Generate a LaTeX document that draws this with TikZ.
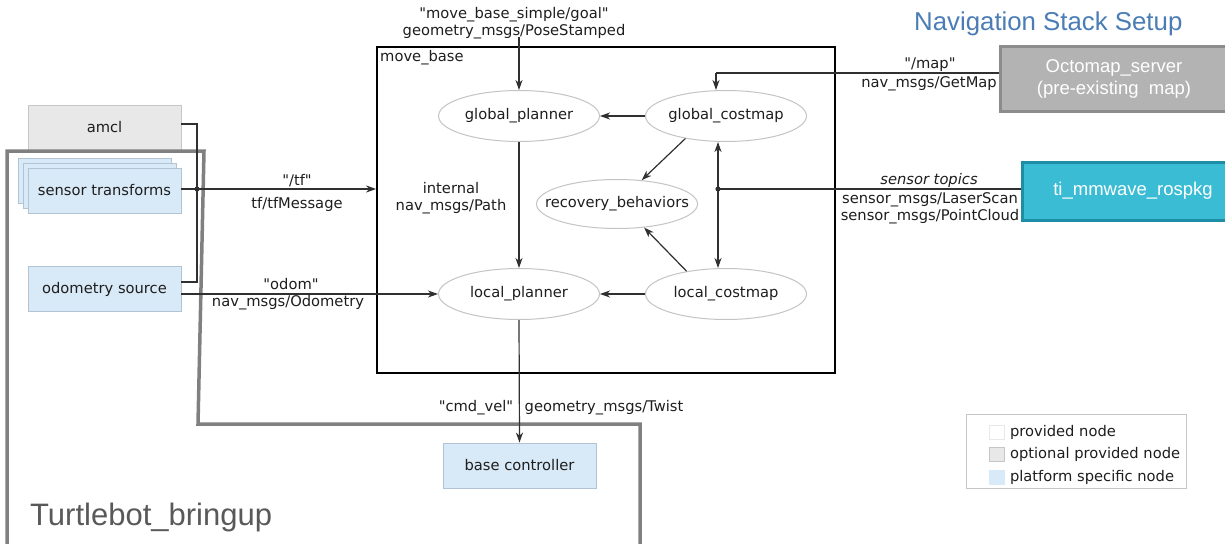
\documentclass[tikz,border=0pt]{standalone}
\usepackage{fontspec}
\setmainfont{DejaVu Sans}[Ligatures=TeXOff]
\newfontfamily\arialf{Liberation Sans}
\usetikzlibrary{arrows.meta,shapes.geometric,calc}
\definecolor{txt}{HTML}{1E1E1E}
\definecolor{ellc}{HTML}{C4C4C4}
\definecolor{greyfill}{HTML}{E8E8E8}
\definecolor{greyline}{HTML}{C6C6C6}
\definecolor{bluefill}{HTML}{D8E9F7}
\definecolor{blueline}{HTML}{B2C3D3}
\definecolor{octofill}{HTML}{B3B3B3}
\definecolor{octoline}{HTML}{8C8C8C}
\definecolor{tifill}{HTML}{3ABCD4}
\definecolor{tiline}{HTML}{1E8EA6}
\definecolor{frameg}{HTML}{808080}
\definecolor{titleblue}{HTML}{4A7DB5}
\definecolor{tbtext}{HTML}{595959}
\definecolor{conn}{HTML}{303030}
\newcommand{\lblfont}{\fontsize{14.7}{17}\selectfont}
\newcommand{\qq}{\symbol{34}}
\newcommand{\ztext}[1]{\makebox[0pt]{#1}}
\tikzset{
  ell/.style={ellipse, draw=ellc, fill=white, line width=1pt, minimum width=161pt, minimum height=51pt, inner sep=0pt, font=\lblfont, text=txt},
  greybox/.style={draw=greyline, fill=greyfill, line width=0.8pt, minimum width=153pt, minimum height=45pt, inner sep=0pt, font=\lblfont, text=txt},
  bluebox/.style={draw=blueline, fill=bluefill, line width=0.8pt, minimum width=153pt, minimum height=45pt, inner sep=0pt, font=\lblfont, text=txt},
  lbl/.style={font=\lblfont, text=txt, inner sep=0pt, align=center},
  cline/.style={draw=conn, line width=1.2pt},
  arr/.style={cline, -{Stealth[length=10pt,width=7pt,inset=3pt]}},
  darr/.style={cline, {Stealth[length=10pt,width=7pt,inset=3pt]}-{Stealth[length=10pt,width=7pt,inset=3pt]}},
  legsq/.style={draw=greyline, line width=0.6pt, minimum width=15pt, minimum height=14pt, inner sep=0pt},
  tbframe/.style={draw=frameg, line width=3.5pt},
}
\begin{document}
\begin{tikzpicture}[x=1pt,y=-1pt]
\useasboundingbox[fill=white] (0,0) rectangle (1225,543);

% title
\node[anchor=base west, inner sep=0pt, font=\arialf\fontsize{25.8}{28}\selectfont, text=titleblue] (title) at (914,31) {Navigation Stack Setup};

% move_base frame
\node[draw=black, line width=1.8pt, minimum width=458pt, minimum height=326pt, inner sep=0pt] (mb) at (606,210) {};
\node[lbl, anchor=north west] (mblbl) at (380,50) {move\_base};

% ellipses
\node[ell] (gp) at (519,116) {\ztext{global\_planner}};
\node[ell] (gc) at (726,116) {\ztext{global\_costmap}};
\node[ell, minimum height=49pt] (rb) at (617,204) {\ztext{recovery\_behaviors}};
\node[ell] (lp) at (519,294) {\ztext{local\_planner}};
\node[ell] (lc) at (726,294) {\ztext{local\_costmap}};

% left nodes
\node[greybox] (amcl) at (104.5,127.5) {amcl};
\node[bluebox] (st3) at (94.5,180.5) {};
\node[bluebox] (st2) at (99.5,185.5) {};
\node[bluebox] (st) at (104.5,190.5) {sensor transforms};
\node[bluebox] (odo) at (104.5,289) {odometry source};
\node[bluebox] (bc) at (519.5,465.5) {base controller};

% right nodes
\node[draw=octoline, fill=octofill, line width=3pt, minimum width=228pt, minimum height=64pt, inner sep=0pt, text=white, align=center, font=\arialf\fontsize{18.5}{22}\selectfont] (oct) at (1114,79) {Octomap\_server\\(pre-existing\ \ map)};
\node[draw=tiline, fill=tifill, line width=3pt, minimum width=206pt, minimum height=58pt, inner sep=0pt, text=white, font=\arialf\fontsize{18.5}{22}\selectfont] (ti) at (1125,191) {\hspace*{16pt}ti\_mmwave\_rospkg};

% Turtlebot frame
\draw[tbframe] (7,546) -- (7,151) -- (204,151) -- (198,424) -- (640,424) -- (640,546);
\node[anchor=base west, inner sep=0pt, font=\arialf\fontsize{31}{31}\selectfont, text=tbtext] (tblbl) at (30,525) {Turtlebot\_bringup};

% goal
\node[lbl] (goallbl) at (514,23) {\qq move\_base\_simple/goal\qq\\geometry\_msgs/PoseStamped};
\coordinate (goal) at (519,37);
\draw[arr] (goal) -- (gp.north);

% tf
\coordinate (jdot) at (197,189);
\draw[arr] (st.east |- jdot) -- (mb.west |- jdot);
\draw[cline] (amcl.east |- 0,124) -| (jdot) |- (odo.east |- 0,282);
\fill[conn] (jdot) circle (2.6pt);
\node[lbl] (tf1) at (297,181) {\qq/tf\qq};
\node[lbl] (tf2) at (297,204) {tf/tfMessage};

% odom
\draw[arr] (lp.west -| odo.east) -- (lp.west);
\node[lbl] (od1) at (291,284) {\qq odom\qq};
\node[lbl] (od2) at (288,303) {nav\_msgs/Odometry};

% internal
\draw[arr] (gp.south) -- (lp.north);
\node[lbl] (int) at (451,198) {internal\\nav\_msgs/Path};

\draw[arr] (gc.west) -- (gp.east);
\draw[arr] (lc.west) -- (lp.east);
\draw[arr] (gc.209) -- (rb.44);
\draw[arr] (lc.150) -- (rb.-41);

% sensor dot
\coordinate (sdot) at (718,189);
\draw[darr] (gc.south -| sdot) -- (lc.north -| sdot);
\draw[cline] (ti.west |- sdot) -- (sdot);
\fill[conn] (sdot) circle (2.6pt);
\node[lbl, font=\lblfont\itshape] (sens1) at (929,180) {sensor topics};
\node[lbl] (sens2) at (930,208) {sensor\_msgs/LaserScan\\sensor\_msgs/PointCloud};

% map
\coordinate (mc) at (716,73);
\draw[cline] (oct.west |- mc) -- (mc);
\draw[arr] (mc) -- (gc.north -| mc);
\node[lbl] (map1) at (930,65) {\qq/map\qq};
\node[lbl] (map2) at (929,84) {nav\_msgs/GetMap};

% cmd_vel
\draw[arr] (lp.south) -- (bc.north);
\node[lbl] (cv1) at (476,408) {\qq cmd\_vel\qq};
\node[lbl] (cv2) at (604,408) {geometry\_msgs/Twist};

% legend
\node[draw=greyline, line width=0.8pt, minimum width=220pt, minimum height=74pt, inner sep=0pt] (leg) at (1076,451) {};
\node[legsq, fill=white, draw=greyfill] (l1) at (997,432) {};
\node[legsq, fill=greyfill] (l2) at (997,454) {};
\node[legsq, fill=bluefill, draw=bluefill] (l3) at (997,477) {};
\node[lbl, anchor=west] (lt1) at ([xshift=5pt]l1.east) {provided node};
\node[lbl, anchor=west] (lt2) at ([xshift=5pt]l2.east) {optional provided node};
\node[lbl, anchor=west] (lt3) at ([xshift=5pt]l3.east) {platform specific node};
\end{tikzpicture}
\end{document}
